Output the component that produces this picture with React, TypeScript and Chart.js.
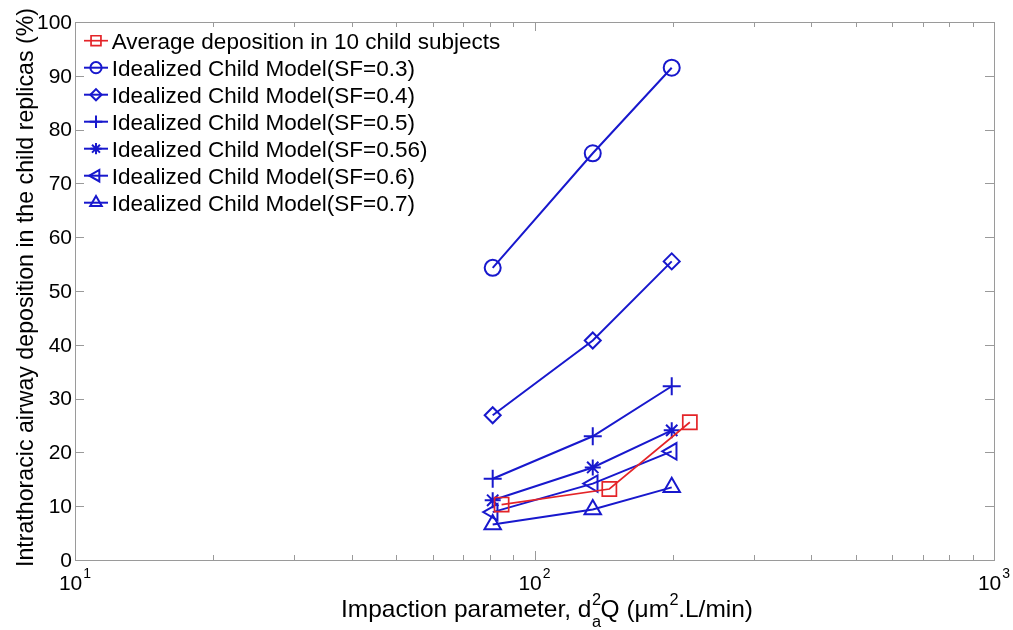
import React, { useEffect, useRef } from 'react';
import { Chart, registerables } from 'chart.js';
import { drawPoint } from 'chart.js/helpers';

Chart.register(...registerables);

const FONT = '"Liberation Sans", Arial, Helvetica, sans-serif';
const BLUE = 'rgb(24, 24, 205)';
const RED = 'rgb(228, 36, 40)';
const AXIS = '#9a9a9a';

// ---- data ----
const seriesNames = [
  'Average deposition in 10 child subjects',
  'Idealized Child Model(SF=0.3)',
  'Idealized Child Model(SF=0.4)',
  'Idealized Child Model(SF=0.5)',
  'Idealized Child Model(SF=0.56)',
  'Idealized Child Model(SF=0.6)',
  'Idealized Child Model(SF=0.7)',
];
const averageImpaction = [84.8, 145.5, 217.8];
const modelImpaction = [81.1, 133.9, 198.9];
const averageDeposition = [10.3, 13.2, 25.6];
const sf03Deposition = [54.3, 75.6, 91.5];
const sf04Deposition = [26.9, 40.8, 55.5];
const sf05Deposition = [15.1, 23.0, 32.3];
const sf056Deposition = [11.1, 17.2, 24.1];
const sf06Deposition = [8.9, 14.2, 20.2];
const sf07Deposition = [6.6, 9.4, 13.5];

const yTickValues = [0, 10, 20, 30, 40, 50, 60, 70, 80, 90, 100];
const xMajorTickValues = [10, 100, 1000];
const xTickExponents = ['1', '2', '3'];
const xMinorTickValues = [20, 30, 40, 50, 60, 70, 80, 90, 200, 300, 400, 500, 600, 700, 800, 900];
const yAxisTitle = 'Intrathoracic airway deposition in the child replicas (%)';

const seriesStyles = [
  { color: RED, pointStyle: 'rect', radius: 10, rotation: 0, width: 1.7 },
  { color: BLUE, pointStyle: 'circle', radius: 8, rotation: 0, width: 2 },
  { color: BLUE, pointStyle: 'rectRot', radius: 8, rotation: 0, width: 2 },
  { color: BLUE, pointStyle: 'cross', radius: 9, rotation: 0, width: 2 },
  { color: BLUE, pointStyle: 'star', radius: 8, rotation: 0, width: 2 },
  { color: BLUE, pointStyle: 'triangle', radius: 9.5, rotation: -90, width: 2 },
  { color: BLUE, pointStyle: 'triangle', radius: 9.5, rotation: 0, width: 2 },
];

const seriesX = [averageImpaction, modelImpaction, modelImpaction, modelImpaction, modelImpaction, modelImpaction, modelImpaction];
const seriesY = [averageDeposition, sf03Deposition, sf04Deposition, sf05Deposition, sf056Deposition, sf06Deposition, sf07Deposition];

const decorPlugin = {
  id: 'matlabDecor',
  afterDraw(chart: any) {
    const { ctx, chartArea } = chart;
    const xs = chart.scales.x;
    const ys = chart.scales.y;
    const { left, right, top, bottom } = chartArea;
    ctx.save();

    // frame
    ctx.strokeStyle = AXIS;
    ctx.lineWidth = 1;
    ctx.strokeRect(Math.round(left) + 0.5, Math.round(top) + 0.5, Math.round(right - left), Math.round(bottom - top));

    const tick = (x1: number, y1: number, x2: number, y2: number) => {
      ctx.beginPath();
      ctx.moveTo(x1, y1);
      ctx.lineTo(x2, y2);
      ctx.stroke();
    };
    // y ticks
    yTickValues.forEach((v) => {
      const py = Math.round(ys.getPixelForValue(v)) + 0.5;
      tick(left, py, left + 9, py);
      tick(right, py, right - 9, py);
    });
    // x ticks
    xMajorTickValues.forEach((v) => {
      const px = Math.round(xs.getPixelForValue(v)) + 0.5;
      tick(px, bottom, px, bottom - 9);
      tick(px, top, px, top + 9);
    });
    xMinorTickValues.forEach((v) => {
      const px = Math.round(xs.getPixelForValue(v)) + 0.5;
      tick(px, bottom, px, bottom - 5);
      tick(px, top, px, top + 5);
    });

    // y tick labels
    ctx.fillStyle = '#000';
    ctx.font = `21px ${FONT}`;
    ctx.textAlign = 'right';
    ctx.textBaseline = 'middle';
    yTickValues.forEach((v) => {
      ctx.fillText(String(v), left - 3, ys.getPixelForValue(v) + 1);
    });

    // x tick labels 10^n
    ctx.textAlign = 'left';
    ctx.textBaseline = 'alphabetic';
    xMajorTickValues.forEach((v, i) => {
      const px = xs.getPixelForValue(v);
      ctx.font = `21px ${FONT}`;
      const w1 = ctx.measureText('10').width;
      ctx.font = `14px ${FONT}`;
      const w2 = ctx.measureText(xTickExponents[i]).width;
      const start = px - (w1 + 1 + w2) / 2;
      ctx.font = `21px ${FONT}`;
      ctx.fillText('10', start, bottom + 30);
      ctx.font = `14px ${FONT}`;
      ctx.fillText(xTickExponents[i], start + w1 + 1, bottom + 18);
    });

    // x axis title with sub/superscripts
    const parts: Array<{ t: string; kind: 'n' | 'sup' | 'sub' | 'supsub'; sub?: string }> = [
      { t: 'Impaction parameter, d', kind: 'n' },
      { t: '2', kind: 'supsub', sub: 'a' },
      { t: 'Q (\u03bcm', kind: 'n' },
      { t: '2', kind: 'sup' },
      { t: '.L/min)', kind: 'n' },
    ];
    const mainFont = `24px ${FONT}`;
    const smallFont = `16px ${FONT}`;
    let total = 0;
    const widths = parts.map((p) => {
      ctx.font = p.kind === 'n' ? mainFont : smallFont;
      let w = ctx.measureText(p.t).width;
      if (p.sub) w = Math.max(w, ctx.measureText(p.sub).width);
      total += w;
      return w;
    });
    const targetW = 412;
    const sx = targetW / total;
    const cx = 547;
    const base = 616.5;
    ctx.save();
    ctx.translate(cx - targetW / 2, base);
    ctx.scale(sx, 1);
    let cur = 0;
    parts.forEach((p, i) => {
      if (p.kind === 'n') {
        ctx.font = mainFont;
        ctx.fillText(p.t, cur, 0);
      } else {
        ctx.font = smallFont;
        ctx.fillText(p.t, cur + 0.5, -12);
        if (p.sub) ctx.fillText(p.sub, cur + 0.5, 10);
      }
      cur += widths[i];
    });
    ctx.restore();

    // y axis title
    ctx.save();
    ctx.font = `24px ${FONT}`;
    const yw = ctx.measureText(yAxisTitle).width;
    const targetY = 559;
    ctx.translate(33, 287.5);
    ctx.rotate(-Math.PI / 2);
    ctx.scale(targetY / yw, 1);
    ctx.textAlign = 'center';
    ctx.textBaseline = 'alphabetic';
    ctx.fillText(yAxisTitle, 0, 0);
    ctx.restore();

    // legend
    seriesNames.forEach((name, i) => {
      const st = seriesStyles[i];
      const cy = 40.7 + i * 27;
      ctx.strokeStyle = st.color;
      ctx.lineWidth = st.width;
      ctx.beginPath();
      ctx.moveTo(84, cy);
      ctx.lineTo(108, cy);
      ctx.stroke();
      ctx.fillStyle = 'rgba(0,0,0,0)';
      drawPoint(ctx, { pointStyle: st.pointStyle, rotation: st.rotation, radius: st.radius * 0.7, borderWidth: st.width } as any, 96, cy);
      ctx.fillStyle = '#000';
      ctx.font = `22.5px ${FONT}`;
      ctx.textAlign = 'left';
      ctx.textBaseline = 'alphabetic';
      ctx.fillText(name, 111.7, cy + 8);
    });

    ctx.restore();
  },
};

export default function App() {
  const canvasRef = useRef<HTMLCanvasElement | null>(null);

  useEffect(() => {
    if (!canvasRef.current) return;
    const datasets = seriesNames.map((name, i) => {
      const st = seriesStyles[i];
      return {
        label: name,
        data: seriesX[i].map((x, j) => ({ x, y: seriesY[i][j] })),
        showLine: true,
        borderColor: st.color,
        borderWidth: st.width,
        backgroundColor: 'rgba(0,0,0,0)',
        pointStyle: st.pointStyle as any,
        pointRadius: st.radius,
        pointRotation: st.rotation,
        pointBorderColor: st.color,
        pointBorderWidth: st.width,
        pointBackgroundColor: 'rgba(0,0,0,0)',
        fill: false,
        tension: 0,
      };
    });
    const chart = new Chart(canvasRef.current, {
      type: 'scatter',
      data: { datasets },
      options: {
        animation: false,
        responsive: false,
        devicePixelRatio: 1,
        layout: { padding: { top: 22, right: 19, left: 0, bottom: 0 } },
        plugins: { legend: { display: false }, tooltip: { enabled: false } },
        scales: {
          x: {
            type: 'logarithmic',
            min: 10,
            max: 1000,
            grid: { display: false, drawTicks: false },
            border: { display: false },
            ticks: { display: false },
            afterFit: (s: any) => {
              s.height = 70;
            },
          },
          y: {
            type: 'linear',
            min: 0,
            max: 100,
            grid: { display: false, drawTicks: false },
            border: { display: false },
            ticks: { display: false },
            afterFit: (s: any) => {
              s.width = 75;
            },
          },
        },
      },
      plugins: [decorPlugin],
    });
    return () => chart.destroy();
  }, []);

  return (
    <div style={{ position: 'absolute', left: 0, top: 0, width: 1013, height: 630, background: '#fff' }}>
      <canvas ref={canvasRef} width={1013} height={630} style={{ display: 'block' }} />
    </div>
  );
}
